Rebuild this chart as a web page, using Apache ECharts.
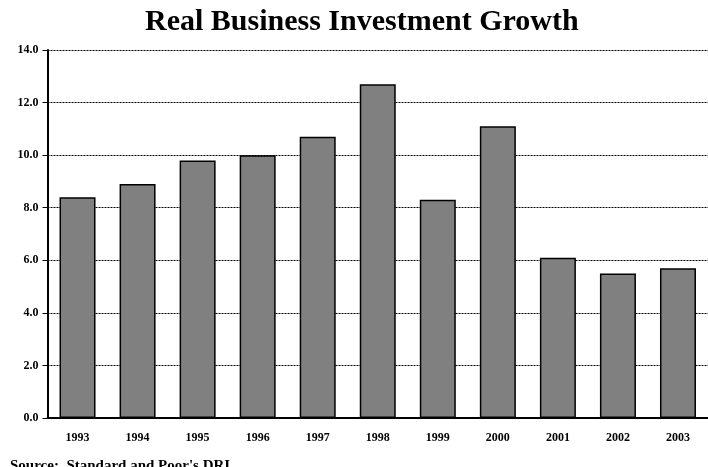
<!DOCTYPE html>
<html>
<head>
<meta charset="utf-8">
<script src="https://cdn.jsdelivr.net/npm/echarts@6/dist/echarts.min.js"></script>
<style>
  html, body { margin: 0; padding: 0; background: #ffffff; }
  #chart { width: 708px; height: 467px; }
</style>
</head>
<body>
<div id="chart"></div>
<script>
// Annual growth of real business investment, percent
const years = ['1993', '1994', '1995', '1996', '1997', '1998', '1999', '2000', '2001', '2002', '2003'];
const growth = [8.4, 8.9, 9.8, 10.0, 10.7, 12.7, 8.3, 11.1, 6.1, 5.5, 5.7];
const yTicks = [0, 2, 4, 6, 8, 10, 12, 14];

const serif = '"Liberation Serif", "Times New Roman", serif';

const chart = echarts.init(document.getElementById('chart'), null, { renderer: 'canvas' });
chart.setOption({
  animation: false,
  backgroundColor: '#ffffff',
  title: [{
    text: 'Real Business Investment Growth',
    left: 140,
    top: 2,
    textStyle: { fontFamily: serif, fontWeight: 'bold', fontSize: 30, color: '#000' }
  }, {
    text: "Source:  Standard and Poor's DRI",
    left: 5,
    top: 454,
    textStyle: { fontFamily: serif, fontWeight: 'bold', fontSize: 15, color: '#000' }
  }],
  grid: { left: 47.5, right: -3.5, top: 50, bottom: 49, containLabel: false },
  xAxis: {
    type: 'category',
    data: years,
    axisLine: { show: true, lineStyle: { color: '#000', width: 2 } },
    axisTick: { show: false },
    axisLabel: { fontFamily: serif, fontWeight: 'bold', fontSize: 12, color: '#000', margin: 14 }
  },
  yAxis: {
    type: 'value',
    min: yTicks[0],
    max: yTicks[yTicks.length - 1],
    interval: 2,
    axisLine: { show: true, lineStyle: { color: '#000', width: 2 } },
    axisTick: { show: true, inside: false, length: 5, lineStyle: { color: '#000', width: 1 } },
    axisLabel: {
      fontFamily: serif, fontWeight: 'bold', fontSize: 12, color: '#000', margin: 9,
      formatter: v => v.toFixed(1)
    },
    splitLine: { show: true, lineStyle: { color: '#000', type: [2, 1], width: 1 } }
  },
  series: [{
    type: 'bar',
    data: growth,
    barWidth: 36,
    itemStyle: { color: '#808080', borderColor: '#000', borderWidth: 1.5 }
  }]
});
</script>
</body>
</html>
